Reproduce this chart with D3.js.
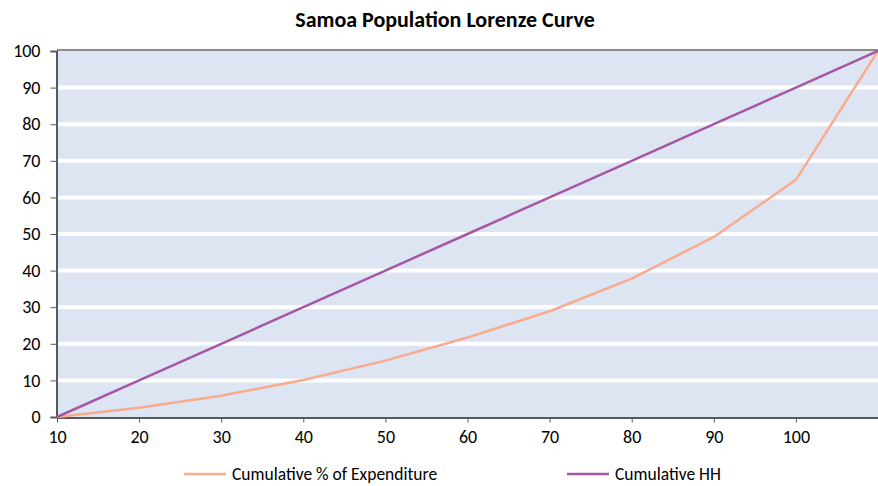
<!DOCTYPE html>
<html>
<head>
<meta charset="utf-8">
<script src="https://cdn.jsdelivr.net/npm/d3@7/dist/d3.min.js"></script>
<style>
  html, body { margin: 0; padding: 0; background: #fff; }
  svg { display: block; }
</style>
</head>
<body>
<svg id="chart" width="878" height="486"></svg>
<script>
// Category labels along the x axis (the final point carries no label)
const categories = ["10", "20", "30", "40", "50", "60", "70", "80", "90", "100", ""];
// Cumulative share of expenditure (%)
const expenditure = [0, 2.5, 5.8, 10.1, 15.4, 21.7, 28.9, 37.8, 49.2, 64.8, 100];
// Cumulative share of households (%)
const households = [0, 10, 20, 30, 40, 50, 60, 70, 80, 90, 100];
const yTicks = [0, 10, 20, 30, 40, 50, 60, 70, 80, 90, 100];

const series = [
  { name: "Cumulative % of Expenditure", values: expenditure, color: "#F9AB8E" },
  { name: "Cumulative HH", values: households, color: "#A557A5" }
];

const svg = d3.select("#chart");
const font = "Carlito, Calibri, Lato, 'Open Sans', sans-serif";

const plot = { left: 57, right: 878, top: 51, bottom: 417 };
const x = d3.scaleLinear().domain([0, categories.length - 1]).range([plot.left, plot.right]);
const y = d3.scaleLinear().domain([0, 100]).range([plot.bottom, plot.top]);

// Plot background
svg.append("rect")
  .attr("x", plot.left).attr("y", plot.top)
  .attr("width", plot.right - plot.left).attr("height", plot.bottom - plot.top)
  .attr("fill", "#DCE5F1");

// White horizontal gridlines
svg.append("g")
  .selectAll("line")
  .data(yTicks.filter(d => d > 0 && d < 100))
  .join("line")
  .attr("x1", plot.left).attr("x2", plot.right)
  .attr("y1", d => y(d)).attr("y2", d => y(d))
  .attr("stroke", "#fff").attr("stroke-width", 4);

// Top border of the plot area
svg.append("line")
  .attr("x1", plot.left).attr("x2", plot.right)
  .attr("y1", plot.top - 1).attr("y2", plot.top - 1)
  .attr("stroke", "#8C8C8C").attr("stroke-width", 2);

// Y axis
const yAxis = svg.append("g")
  .attr("transform", `translate(${plot.left - 0.5},0)`)
  .call(d3.axisLeft(y).tickValues(yTicks).tickSize(6).tickPadding(10));
yAxis.select(".domain").attr("stroke", "#595959").attr("stroke-width", 2);
yAxis.selectAll(".tick line").attr("stroke", "#595959");
yAxis.selectAll(".tick text")
  .attr("font-family", font).attr("font-size", 18).attr("fill", "#000");

// X axis
const xAxis = svg.append("g")
  .attr("transform", `translate(0,${plot.bottom + 0.5})`)
  .call(d3.axisBottom(x)
    .tickValues(d3.range(categories.length - 1))
    .tickFormat(i => categories[i])
    .tickSize(5).tickPadding(8).tickSizeOuter(0));
xAxis.select(".domain").attr("stroke", "#595959").attr("stroke-width", 2);
xAxis.selectAll(".tick line").attr("stroke", "#595959");
xAxis.selectAll(".tick text")
  .attr("font-family", font).attr("font-size", 18).attr("fill", "#000");

// Series lines
const line = d3.line().x((d, i) => x(i)).y(d => y(d));
svg.append("g")
  .selectAll("path")
  .data(series)
  .join("path")
  .attr("d", s => line(s.values))
  .attr("fill", "none")
  .attr("stroke", s => s.color)
  .attr("stroke-width", 2.5)
  .attr("stroke-linejoin", "round");

// Title
svg.append("text")
  .attr("x", 445).attr("y", 27)
  .attr("text-anchor", "middle")
  .attr("font-family", font).attr("font-size", 22).attr("font-weight", "bold")
  .attr("fill", "#000")
  .text("Samoa Population Lorenze Curve");

// Legend
const legendPos = [184, 567];
const legend = svg.append("g")
  .selectAll("g")
  .data(series)
  .join("g")
  .attr("transform", (d, i) => `translate(${legendPos[i]},474)`);
legend.append("line")
  .attr("x1", 0).attr("x2", 42).attr("y1", 0).attr("y2", 0)
  .attr("stroke", d => d.color).attr("stroke-width", 2.5);
legend.append("text")
  .attr("x", 48).attr("y", 0)
  .attr("dominant-baseline", "central")
  .attr("font-family", font).attr("font-size", 17.5).attr("fill", "#000")
  .text(d => d.name);
</script>
</body>
</html>
